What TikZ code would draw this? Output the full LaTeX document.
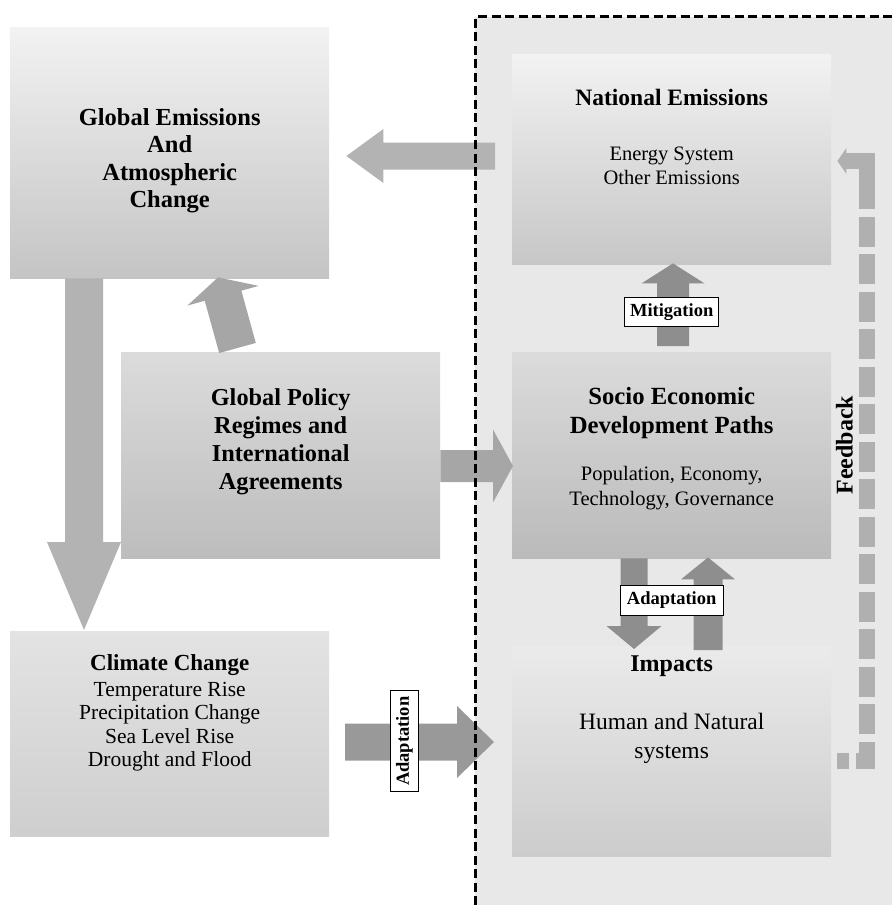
\documentclass[tikz,border=0pt]{standalone}
\usepackage{fontspec}
\setmainfont{Liberation Serif}
\usetikzlibrary{calc}

\definecolor{zonegray}{HTML}{E8E8E8}
\definecolor{lightarrow}{HTML}{B3B3B3}
\definecolor{midarrow}{HTML}{A6A6A6}
\definecolor{darkarrow}{HTML}{8E8E8E}
\definecolor{sidearrow}{HTML}{999999}
\definecolor{feedgray}{HTML}{B0B0B0}

% fat arrow: [colour]{from}{to}{half shaft}{half head}{head length}
\newcommand\blockarrow[6][lightarrow]{%
  \path (#2) coordinate (ba) (#3) coordinate (tip);
  \path ($(tip)!#6!(ba)$) coordinate (hb);
  \fill[#1] ($(ba)!#4!90:(tip)$) -- ($(hb)!#4!90:(tip)$) -- ($(hb)!#5!90:(tip)$)
    -- (tip) -- ($(hb)!#5!-90:(tip)$) -- ($(hb)!#4!-90:(tip)$)
    -- ($(ba)!#4!-90:(tip)$) -- cycle;
}

\begin{document}
\begin{tikzpicture}[x=1pt, y=-1pt,
    panel/.style={anchor=north west, inner sep=0pt, minimum width=319pt,
      minimum height=#1},
    head/.style={font=\fontsize{24.5}{27.5}\selectfont\bfseries, align=center,
      anchor=north, inner sep=0pt},
    sub/.style={font=\fontsize{20.5}{24}\selectfont, align=center,
      anchor=north, inner sep=0pt},
    tag/.style={draw, fill=white, line width=0.8pt,
      font=\fontsize{18.5}{20}\selectfont\bfseries, inner sep=0pt},
    feedback/.style={draw=feedgray, line width=16pt,
      dash pattern=on 30pt off 7.5pt, dash phase=18.6pt}]
  \useasboundingbox (0,0) rectangle (892,905);

  % national zone
  \fill[zonegray] (475,17) rectangle (892,905);

  % boxes
  \node[panel=251pt, top color=white!95!black, bottom color=white!77!black] (gem) at (10,27) {};
  \node[panel=210pt, top color=white!95!black, bottom color=white!78!black] (nat) at (512,54) {};
  \node[panel=206pt, top color=white!86!black, bottom color=white!74!black] (pol) at (121,352) {};
  \node[panel=206pt, top color=white!86!black, bottom color=white!73!black] (seco) at (512,352) {};
  \node[panel=205pt, top color=white!89!black, bottom color=white!81!black] (clim) at (10,631) {};
  \node[panel=210pt, top color=white!92!black, bottom color=white!80!black] (imp) at (512,646) {};

  % arrows
  \path (nat.north west) ++(-17,102) coordinate (a1s)
        (gem.north east) ++(17,129) coordinate (a1e);
  \blockarrow{a1s}{a1e}{13.5pt}{27pt}{37pt}
  \path (gem.south west) ++(74,0) coordinate (a2s)
        (clim.north west) ++(74,-1) coordinate (a2e);
  \blockarrow{a2s}{a2e}{19pt}{37pt}{88pt}
  \path (pol.north west) ++(116.5,-4) coordinate (a3s)
        (gem.south west) ++(208,-1) coordinate (a3e);
  \blockarrow[midarrow]{a3s}{a3e}{19pt}{37pt}{19pt}
  \path (pol.north east) ++(0,114) coordinate (a4s)
        (seco.north west) ++(1,114) coordinate (a4e);
  \blockarrow[midarrow]{a4s}{a4e}{16pt}{36.5pt}{20pt}
  \path (seco.north west) ++(161,-6) coordinate (a5s)
        (nat.south west) ++(161,-1) coordinate (a5e);
  \blockarrow[darkarrow]{a5s}{a5e}{16pt}{31.5pt}{20pt}
  \path (seco.south west) ++(122,0) coordinate (a6s)
        (imp.north west) ++(122,3) coordinate (a6e);
  \blockarrow[darkarrow]{a6s}{a6e}{13.5pt}{27.5pt}{23pt}
  \path (imp.north west) ++(196,4) coordinate (a7s)
        (seco.south west) ++(196,-1) coordinate (a7e);
  \blockarrow[darkarrow]{a7s}{a7e}{14.5pt}{27pt}{22pt}
  \path (clim.north west) ++(335,111) coordinate (a8s)
        (imp.north west) ++(-18,96) coordinate (a8e);
  \blockarrow[sidearrow]{a8s}{a8e}{18.5pt}{36pt}{37pt}

  % feedback loop
  \path (imp.north east) ++(6,114.5) coordinate (fbs)
        (nat.north east) ++(15,107) coordinate (fbe)
        (nat.north east) ++(6,107) coordinate (fbtip);
  \draw[feedback] (fbs) -- ++(30,0) |- (fbe);
  \draw[feedgray, line width=16pt] (fbe) -| ++(21,48);
  \fill[feedgray] ([yshift=13pt]fbe) -- (fbtip) -- ([yshift=-13pt]fbe) -- cycle;

  \draw[line width=2.5pt, dash pattern=on 9pt off 4.5pt] (475.5,905) |- (892,16.5);

  % texts
  \node[head] (gemtxt) at ([yshift=-81pt]gem.north)
    {Global Emissions\\And\\Atmospheric\\Change};
  \node[head, font=\fontsize{23.5}{27}\selectfont\bfseries] (nattxt)
    at ([yshift=-35pt]nat.north) {National Emissions};
  \node[sub] (natsub) at ([yshift=-92.5pt]nat.north) {Energy System\\Other Emissions};
  \node[head, font=\fontsize{24.3}{28}\selectfont\bfseries] (poltxt)
    at ([yshift=-36pt]pol.north) {Global Policy\\Regimes and\\International\\Agreements};
  \node[head, font=\fontsize{24.7}{29}\selectfont\bfseries] (secotxt)
    at ([yshift=-35pt]seco.north) {Socio Economic\\Development Paths};
  \node[sub, font=\fontsize{20.5}{25}\selectfont] (secosub)
    at ([yshift=-114pt]seco.north) {Population, Economy,\\Technology, Governance};
  \node[head, font=\fontsize{23}{27}\selectfont\bfseries] (climtxt)
    at ([yshift=-23pt]clim.north) {Climate Change};
  \node[sub, font=\fontsize{21.5}{23.5}\selectfont] (climsub)
    at ([yshift=-51pt]clim.north)
    {Temperature Rise\\Precipitation Change\\Sea Level Rise\\Drought and Flood};
  \node[head, font=\fontsize{24}{27}\selectfont\bfseries] (imptxt)
    at ([yshift=-10pt]imp.north) {Impacts};
  \node[sub, font=\fontsize{23.5}{29}\selectfont] (impsub)
    at ([yshift=-67pt]imp.north) {Human and Natural\\systems};

  % labels on arrows
  \node[tag, minimum width=94pt, minimum height=29pt] (mitig)
    at ([yshift=-47.5pt]nat.south) {Mitigation};
  \node[tag, minimum width=103pt, minimum height=30pt] (adapt)
    at ([yshift=-42pt]seco.south) {Adaptation};
  \node[tag, rotate=90, minimum width=101pt, minimum height=28pt] (adaptside)
    at ([xshift=75pt, yshift=-7.5pt]clim.east) {Adaptation};
  \node[font=\fontsize{24}{27}\selectfont\bfseries, rotate=90, inner sep=0pt] (fbtxt)
    at ([xshift=13pt, yshift=10pt]seco.east) {Feedback};
\end{tikzpicture}
\end{document}
